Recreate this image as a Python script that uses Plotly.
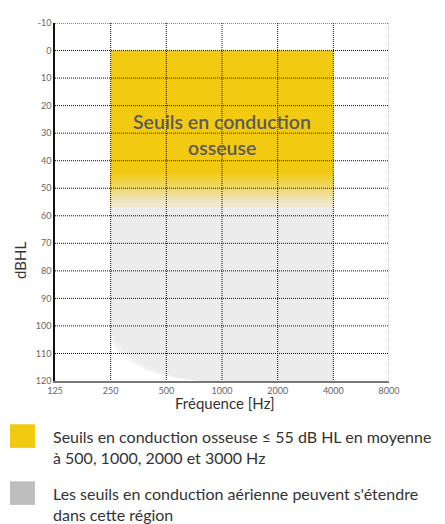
import numpy as np
import plotly.graph_objects as go

# ---------------- data ----------------
freqs = [125, 250, 500, 1000, 2000, 4000, 8000]
freq_labels = ["125", "250", "500", "1000", "2000", "4000", "8000"]
db_ticks = [-10, 0, 10, 20, 30, 40, 50, 60, 70, 80, 90, 100, 110, 120]
db_labels = [str(v) for v in db_ticks]

region_freq = [250, 4000]          # frequency span of both regions
bone_db = [0, 44]                  # solid bone-conduction zone
bone_fade_db = [44, 56.5]          # fade from yellow into grey
air_db = [50, 120]                 # air-conduction zone

region_title = ["Seuils en conduction", "osseuse"]
legend_lines = [
    ["Seuils en conduction osseuse ≤ 55 dB HL en moyenne", "à 500, 1000, 2000 et 3000 Hz"],
    ["Les seuils en conduction aérienne peuvent s'étendre", "dans cette région"],
]

# ---------------- style ----------------
YELLOW = "#F2CA12"
FADE_END = "#EDEAE3"
GRAY_REGION = "#ECECEC"
LEGEND_GRAY = "#BEBEBE"
FONT = "Lato"

OFF = 8                        # page body margin of the html page
W, H = 445 - OFF, 524 - OFF
ML, MR, MT, MB = 55 - OFF, 56, 17 - OFF, 143
PW, PH = W - ML - MR, H - MT - MB


def px2paper(x, y):
    # x, y given in screenshot pixels
    x, y = x - OFF, y - OFF
    return (x - ML) / PW, (H - MB - y) / PH


def rect(x, y0, y1):
    return [x[0], x[1], x[1], x[0], x[0]], [y0, y0, y1, y1, y0]


def hex2rgb(h):
    h = h.lstrip("#")
    return [int(h[i:i + 2], 16) for i in (0, 2, 4)]


fig = go.Figure()

# air-conduction grey region
xs, ys = rect(region_freq, air_db[0], air_db[1])
fig.add_trace(go.Scatter(x=xs, y=ys, fill="toself", fillcolor=GRAY_REGION,
                         line=dict(width=0), mode="lines", hoverinfo="skip",
                         showlegend=False))

# soft white corner at lower-left of grey region (quadratic bezier in log space)
lx0, lx2 = np.log2(region_freq[0]), np.log2(region_freq[0]) + 1.6
t = np.linspace(0, 1, 40)
for (ys0, ctrl, alpha) in [(102.0, 117.0, 0.35), (104.5, 118.0, 0.7), (106.0, 118.8, 1.0)]:
    bx = (1 - t) ** 2 * lx0 + 2 * (1 - t) * t * (lx0 + 0.35) + t ** 2 * lx2
    by = (1 - t) ** 2 * ys0 + 2 * (1 - t) * t * ctrl + t ** 2 * air_db[1]
    cx = list(2 ** bx) + [region_freq[0], region_freq[0]]
    cy = list(by) + [air_db[1], ys0]
    fig.add_trace(go.Scatter(x=cx, y=cy, fill="toself",
                             fillcolor=f"rgba(255,255,255,{alpha})",
                             line=dict(width=0), mode="lines", hoverinfo="skip",
                             showlegend=False))

# bone-conduction yellow region
xs, ys = rect(region_freq, bone_db[0], bone_fade_db[1])
fig.add_trace(go.Scatter(x=xs, y=ys, fill="toself", fillcolor=YELLOW,
                         line=dict(width=0), mode="lines", hoverinfo="skip",
                         showlegend=False))
# gradient fade
c0, c1 = np.array(hex2rgb(YELLOW)), np.array(hex2rgb(FADE_END))
nb = 26
for i in range(nb + 1):
    f = i / nb
    ytop = bone_fade_db[0] + f * (bone_fade_db[1] - bone_fade_db[0])
    c = (c0 + (c1 - c0) * f).round().astype(int)
    xs, ys = rect(region_freq, ytop, bone_fade_db[1])
    fig.add_trace(go.Scatter(x=xs, y=ys, fill="toself",
                             fillcolor=f"rgb({c[0]},{c[1]},{c[2]})",
                             line=dict(width=0), mode="lines", hoverinfo="skip",
                             showlegend=False))

# dotted grid drawn above the regions
gx, gy = [], []
for d in db_ticks[:-1]:
    gx += [freqs[0], freqs[-1], None]
    gy += [d, d, None]
for fq in freqs[1:-1]:
    gx += [fq, fq, None]
    gy += [db_ticks[0], db_ticks[-1], None]
fig.add_trace(go.Scatter(x=gx, y=gy, mode="lines",
                         line=dict(color="#111", width=1, dash="1px,1px"),
                         hoverinfo="skip", showlegend=False))
fig.add_trace(go.Scatter(x=[freqs[-1], freqs[-1]], y=[db_ticks[0], db_ticks[-1]],
                         mode="lines", line=dict(color="#888", width=1, dash="1px,1px"),
                         hoverinfo="skip", showlegend=False))

# region title
mid_f = np.sqrt(region_freq[0] * region_freq[1])
for txt, yy in zip(region_title, [117, 144]):
    fig.add_annotation(x=np.log10(mid_f), y=px2paper(0, yy)[1], yref="paper",
                       text=txt, showarrow=False,
                       font=dict(family=FONT, size=19.5, color="#5a5a5a", weight=600),
                       xanchor="center", yanchor="middle")

# axis titles
xx, yy = px2paper(225, 403)
fig.add_annotation(x=xx, y=yy, xref="paper", yref="paper", text="Fréquence [Hz]",
                   showarrow=False, font=dict(family=FONT, size=15, color="#333"),
                   xanchor="center", yanchor="middle")
xx, yy = px2paper(20, 259)
fig.add_annotation(x=xx, y=yy, xref="paper", yref="paper", text="dBHL",
                   showarrow=False, textangle=-90,
                   font=dict(family=FONT, size=15, color="#333"),
                   xanchor="center", yanchor="middle")

# legend swatches and text
for col, ytop, lines in [(YELLOW, 425, legend_lines[0]),
                         (LEGEND_GRAY, 483, legend_lines[1])]:
    x0, y0 = px2paper(10, ytop)
    x1, y1 = px2paper(35, ytop + 24)
    fig.add_shape(type="rect", xref="paper", yref="paper", x0=x0, x1=x1,
                  y0=y1, y1=y0, fillcolor=col, line=dict(width=0))
    for j, line in enumerate(lines):
        tx, ty = px2paper(51, ytop + 12 + j * 22)
        fig.add_annotation(x=tx, y=ty, xref="paper", yref="paper", text=line,
                           showarrow=False, xanchor="left", yanchor="middle",
                           font=dict(family=FONT, size=16, color="#333"))

fig.update_xaxes(type="log", range=[np.log10(freqs[0]), np.log10(freqs[-1])],
                 tickvals=freqs, ticktext=freq_labels, showgrid=False,
                 zeroline=False, showline=True, linecolor="#777", linewidth=2,
                 ticks="", tickfont=dict(family=FONT, size=9, color="#666"),
                 layer="above traces")
fig.update_yaxes(range=[db_ticks[-1], db_ticks[0]], tickvals=db_ticks,
                 ticktext=db_labels, showgrid=False, zeroline=False,
                 showline=True, linecolor="#111", linewidth=1.5, ticks="",
                 tickfont=dict(family=FONT, size=9, color="#666"),
                 layer="above traces")
fig.update_layout(width=W, height=H, margin=dict(l=ML, r=MR, t=MT, b=MB),
                  plot_bgcolor="white", paper_bgcolor="white", showlegend=False)

fig.write_html("out.html")
